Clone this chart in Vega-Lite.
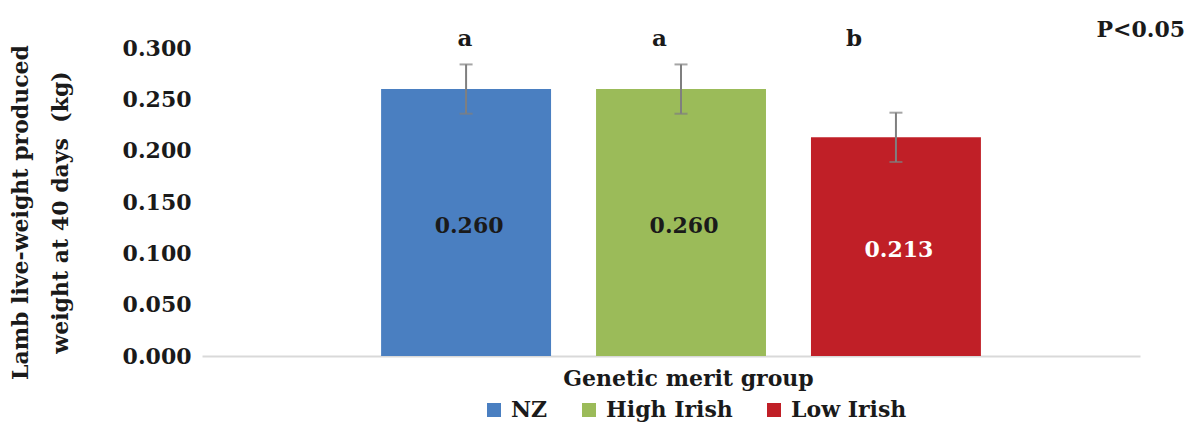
{
  "$schema": "https://vega.github.io/schema/vega-lite/v6.json",
  "width": 938,
  "height": 308,
  "autosize": {"type": "none"},
  "padding": {"left": 202, "top": 48, "right": 49, "bottom": 67},
  "title": {
    "text": "P<0.05",
    "anchor": "end",
    "dx": 45,
    "offset": -14,
    "fontSize": 22,
    "font": "DejaVu Serif",
    "fontWeight": "bold",
    "color": "#1a1a1a"
  },
  "data": {
    "values": [
      {"group": "NZ", "mean": 0.260, "se": 0.024, "letter": "a"},
      {"group": "High Irish", "mean": 0.260, "se": 0.024, "letter": "a"},
      {"group": "Low Irish", "mean": 0.213, "se": 0.024, "letter": "b"}
    ]
  },
  "config": {
    "font": "DejaVu Serif",
    "view": {"stroke": null},
    "legend": {
      "orient": "none",
      "direction": "horizontal",
      "legendX": 281,
      "legendY": 351,
      "symbolType": "square",
      "symbolSize": 196,
      "symbolStrokeWidth": 0,
      "labelFont": "DejaVu Serif",
      "labelFontSize": 22,
      "labelFontWeight": "bold",
      "labelColor": "#1a1a1a",
      "labelOffset": 6,
      "columnPadding": 30,
      "title": null
    }
  },
  "resolve": {"scale": {"x": "independent"}},
  "layer": [
    {
      "encoding": {
        "x": {
          "field": "group",
          "type": "nominal",
          "sort": ["NZ", "High Irish", "Low Irish"],
          "scale": {"type": "band", "paddingInner": 0.2093, "paddingOuter": 0.7867, "align": 0.5296},
          "axis": {
            "title": "Genetic merit group",
            "titleFont": "DejaVu Serif",
            "titleFontSize": 22,
            "titleFontWeight": "bold",
            "titleColor": "#1a1a1a",
            "titlePadding": 12,
            "titleX": 486,
            "labels": false,
            "ticks": false,
            "domainColor": "#d9d9d9",
            "domainWidth": 2
          }
        },
        "y": {
          "field": "mean",
          "type": "quantitative",
          "scale": {"domain": [0, 0.3]},
          "axis": {
            "title": ["Lamb live-weight produced", "weight at 40 days \u00a0(kg)"],
            "titleFont": "DejaVu Serif",
            "titleFontSize": 22,
            "titleFontWeight": "bold",
            "titleColor": "#1a1a1a",
            "titleLineHeight": 40,
            "titlePadding": 50,
            "titleY": 164,
            "values": [0, 0.05, 0.1, 0.15, 0.2, 0.25, 0.3],
            "format": ".3f",
            "labelFont": "DejaVu Serif",
            "labelFontSize": 22,
            "labelFontWeight": "bold",
            "labelColor": "#1a1a1a",
            "labelPadding": 11,
            "domain": false,
            "ticks": false,
            "grid": false
          }
        }
      },
      "layer": [
        {
          "mark": {"type": "bar"},
          "encoding": {
            "color": {
              "field": "group",
              "type": "nominal",
              "scale": {
                "domain": ["NZ", "High Irish", "Low Irish"],
                "range": ["#4a7fc1", "#9bbb59", "#c01f27"]
              }
            }
          }
        },
        {
          "mark": {
            "type": "errorbar",
            "rule": {"strokeWidth": 2, "color": "#7f7f7f"},
            "ticks": {"size": 13, "thickness": 2, "color": "#7f7f7f"}
          },
          "encoding": {
            "y": {
              "field": "mean",
              "type": "quantitative",
              "title": ["Lamb live-weight produced", "weight at 40 days \u00a0(kg)"]
            },
            "yError": {"field": "se"}
          }
        },
        {
          "transform": [{"calculate": "datum.mean / 2", "as": "mid"}],
          "mark": {"type": "text", "fontSize": 22, "fontWeight": "bold", "font": "DejaVu Serif", "dy": 3, "dx": 3},
          "encoding": {
            "y": {
              "field": "mid",
              "type": "quantitative",
              "title": ["Lamb live-weight produced", "weight at 40 days \u00a0(kg)"]
            },
            "text": {"field": "mean", "type": "quantitative", "format": ".3f"},
            "color": {
              "condition": {"test": "datum.group === 'Low Irish'", "value": "#ffffff"},
              "value": "#1a1a1a"
            }
          }
        }
      ]
    },
    {
      "mark": {
        "type": "text",
        "fontSize": 23,
        "fontWeight": "bold",
        "font": "DejaVu Serif",
        "baseline": "alphabetic",
        "dy": -2,
        "color": "#1a1a1a"
      },
      "encoding": {
        "x": {
          "field": "group",
          "type": "nominal",
          "sort": ["NZ", "High Irish", "Low Irish"],
          "scale": {"type": "band", "paddingInner": 0, "paddingOuter": 0.911, "align": 0.4676},
          "axis": null
        },
        "y": {"datum": 0.3},
        "text": {"field": "letter"}
      }
    }
  ]
}
